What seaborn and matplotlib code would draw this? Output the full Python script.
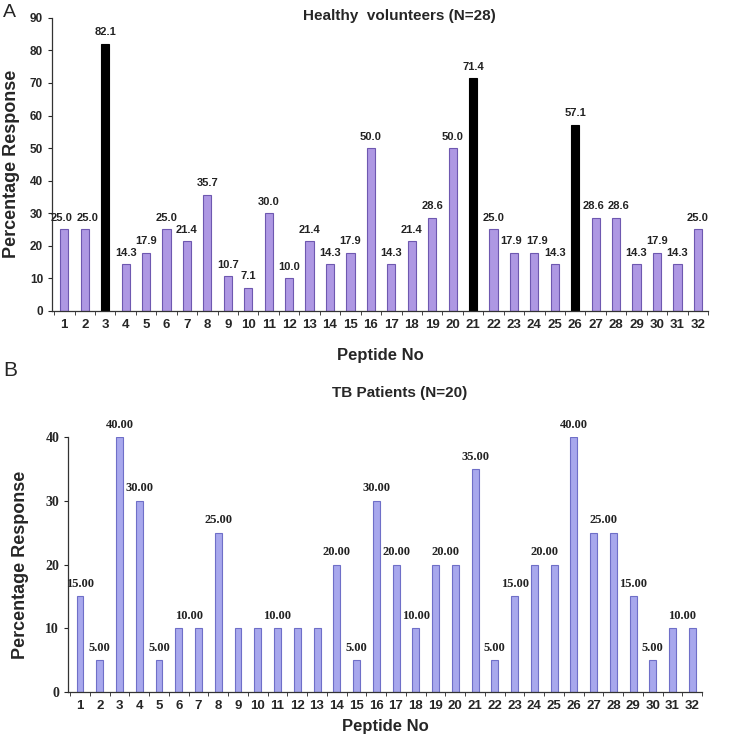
import matplotlib
matplotlib.use("Agg")
import matplotlib.pyplot as plt
import seaborn as sns
import pandas as pd
import numpy as np

peptides = [str(i) for i in range(1, 33)]

healthy = [25.0, 25.0, 82.1, 14.3, 17.9, 25.0, 21.4, 35.7, 10.7, 7.1, 30.0, 10.0,
           21.4, 14.3, 17.9, 50.0, 14.3, 21.4, 28.6, 50.0, 71.4, 25.0, 17.9, 17.9,
           14.3, 57.1, 28.6, 28.6, 14.3, 17.9, 14.3, 25.0]
highlight = ["3", "21", "26"]

tb = [15, 5, 40, 30, 5, 10, 10, 25, 10, 10, 10, 10, 10, 20, 5, 30, 20, 10, 20, 20,
      35, 5, 15, 20, 20, 40, 25, 25, 15, 5, 10, 10]
# which TB bars carry a value label (some labels sit between two equal bars)
tb_labelled = ["1", "2", "3", "4", "5", "6", "8", "11", "14", "15", "16", "17", "18",
               "19", "21", "22", "23", "24", "26", "27", "29", "30", "31"]
tb_between = ["6", "19", "24", "27", "31"]

purple_a = "#A98BF0"
purple_b = "#9C9CF8"

# small sideways nudges so neighbouring equal labels don't collide
nudge_a = {"1": -0.12, "2": 0.12, "23": -0.12, "24": 0.12, "27": -0.12, "28": 0.12}

sns.set_style("white")
plt.rcParams['font.family'] = ['Liberation Sans', 'DejaVu Sans']
serif = ["Liberation Serif", "DejaVu Serif"]

fig = plt.figure(figsize=(7.33, 7.42), dpi=100)

# ---- panel A ----
ax1 = fig.add_axes([0.071, 0.581, 0.895, 0.395])
df_a = pd.DataFrame({"Peptide": peptides, "Response": healthy})
colors_a = ["black" if p in highlight else purple_a for p in peptides]
sns.barplot(data=df_a, x="Peptide", y="Response", hue="Peptide", palette=colors_a,
            legend=False, width=0.4, edgecolor="#6E58B0", linewidth=0.8, ax=ax1)
for bar, p in zip(ax1.patches, peptides):
    if p in highlight:
        bar.set_edgecolor("black")
for i, v in enumerate(healthy):
    ax1.text(i + nudge_a.get(peptides[i], 0), v + 2.0, f"{v:.1f}", ha="center",
             va="bottom", fontsize=8, fontweight="bold", color="#222222", clip_on=False)
ax1.set_ylim(0, 90)
ax1.set_xlim(-0.6, 31.5)
ax1.set_yticks(range(0, 91, 10))
ax1.set_xticks(np.arange(-0.5, 32, 1), minor=True)
ax1.tick_params(axis="x", which="major", length=0, labelsize=9.5, pad=6)
ax1.tick_params(axis="x", which="minor", length=3, direction="out", bottom=True)
ax1.tick_params(axis="y", length=3, direction="out", left=True, labelsize=8.5)
for lab in ax1.get_xticklabels() + ax1.get_yticklabels():
    lab.set_fontweight("bold")
ax1.set_xlabel("Peptide No", fontsize=12, fontweight="bold", labelpad=12)
ax1.set_ylabel("Percentage Response", fontsize=13, fontweight="bold", labelpad=7)
sns.despine(ax=ax1)
for s in ["left", "bottom"]:
    ax1.spines[s].set_color("#333333")
    ax1.spines[s].set_linewidth(0.9)
fig.text(0.545, 0.979, "Healthy  volunteers (N=28)", ha="center", va="center",
         fontsize=11, fontweight="bold")
fig.text(0.004, 0.983, "A", ha="left", va="center", fontsize=14)

# ---- panel B ----
ax2 = fig.add_axes([0.093, 0.0674, 0.865, 0.3436])
df_b = pd.DataFrame({"Peptide": peptides, "Response": tb})
sns.barplot(data=df_b, x="Peptide", y="Response", color=purple_b, width=0.35,
            edgecolor="#6F6FC8", linewidth=0.8, ax=ax2)
for p in tb_labelled:
    i = peptides.index(p)
    x = i + 0.5 if p in tb_between else i
    ax2.text(x, tb[i] + 1.0, f"{tb[i]:.2f}", ha="center", va="bottom", fontsize=9,
             fontweight="bold", family=serif, color="#222222", clip_on=False)
ax2.set_ylim(0, 40)
ax2.set_xlim(-0.6, 31.5)
ax2.set_yticks(range(0, 41, 10))
ax2.set_xticks(np.arange(-0.5, 32, 1), minor=True)
ax2.tick_params(axis="x", which="major", length=0, labelsize=9.5, pad=6)
ax2.tick_params(axis="x", which="minor", length=3, direction="out", bottom=True)
ax2.tick_params(axis="y", length=3, direction="out", left=True, labelsize=10)
for lab in ax2.get_xticklabels():
    lab.set_fontweight("bold")
for lab in ax2.get_yticklabels():
    lab.set_fontweight("bold")
    lab.set_family(serif)
ax2.set_xlabel("Peptide No", fontsize=12, fontweight="bold", labelpad=5)
ax2.set_ylabel("Percentage Response", fontsize=13, fontweight="bold", labelpad=12)
sns.despine(ax=ax2)
for s in ["left", "bottom"]:
    ax2.spines[s].set_color("#333333")
    ax2.spines[s].set_linewidth(0.9)
fig.text(0.545, 0.471, "TB Patients (N=20)", ha="center", va="center",
         fontsize=11, fontweight="bold")
fig.text(0.004, 0.5, "B", ha="left", va="center", fontsize=15)

fig.savefig("out.png", dpi=100)
